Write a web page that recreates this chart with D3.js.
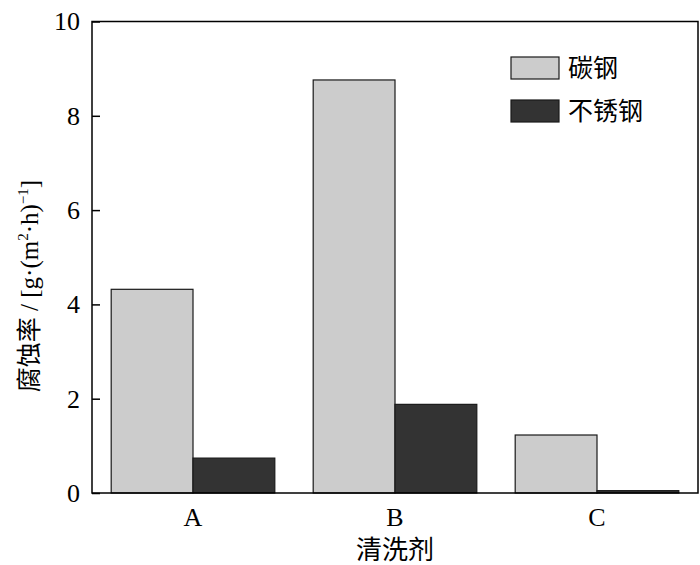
<!DOCTYPE html>
<html>
<head>
<meta charset="utf-8">
<script src="https://cdn.jsdelivr.net/npm/d3@7"></script>
<style>
  body { margin: 0; background: #fff; }
  text { font-family: "Liberation Serif", "Noto Sans CJK SC", serif; fill: #000; }
</style>
</head>
<body>
<div id="chart"></div>
<script>
/* DATA */
const cleaners = ["A", "B", "C"];
const seriesNames = ["碳钢", "不锈钢"];
const carbonSteel = [4.32, 8.76, 1.23];
const stainlessSteel = [0.74, 1.88, 0.05];
const yTicks = [0, 2, 4, 6, 8, 10];

/* CONSTANTS */
const width = 700,
  height = 565,
  margin = { top: 21.5, bottom: 72, left: 92, right: 2 },
  colors = ["#cccccc", "#333333"],
  fontSize = 26;

const svg = d3.select("#chart")
  .append("svg")
  .attr("width", width)
  .attr("height", height);

// table built from the arrays
const rows = cleaners.map((c, i) => ({ cleaner: c, values: [carbonSteel[i], stainlessSteel[i]] }));

/* SCALES */
const xScale = d3.scaleBand()
  .domain(cleaners)
  .range([margin.left, width - margin.right])
  .paddingInner(0.19)
  .paddingOuter(0.095);

const xSub = d3.scaleBand()
  .domain(seriesNames)
  .range([0, xScale.bandwidth()]);

const yScale = d3.scaleLinear()
  .domain([0, 10])
  .range([height - margin.bottom, margin.top]);

/* BARS */
const groups = svg.selectAll(".group")
  .data(rows)
  .join("g")
  .attr("class", "group")
  .attr("transform", d => `translate(${xScale(d.cleaner)},0)`);

groups.selectAll("rect")
  .data(d => d.values.map((v, j) => ({ name: seriesNames[j], value: v, j })))
  .join("rect")
  .attr("x", d => xSub(d.name))
  .attr("y", d => yScale(d.value))
  .attr("width", xSub.bandwidth())
  .attr("height", d => yScale(0) - yScale(d.value))
  .attr("fill", d => colors[d.j])
  .attr("stroke", "#1a1a1a")
  .attr("stroke-width", 1.2);

/* FRAME */
svg.append("rect")
  .attr("x", margin.left)
  .attr("y", margin.top)
  .attr("width", width - margin.right - margin.left)
  .attr("height", yScale(0) - margin.top)
  .attr("fill", "none")
  .attr("stroke", "#000")
  .attr("stroke-width", 1.5);

/* AXES */
const yAxis = d3.axisLeft(yScale)
  .tickValues(yTicks)
  .tickSize(-8)
  .tickPadding(12)
  .tickFormat(d3.format("d"));

svg.append("g")
  .attr("transform", `translate(${margin.left},0)`)
  .call(yAxis)
  .call(g => g.select(".domain").remove())
  .call(g => g.selectAll("line").attr("stroke-width", 1.5))
  .call(g => g.selectAll("text")
    .attr("font-size", fontSize)
    .attr("font-family", "Liberation Serif"));

const xAxis = d3.axisBottom(xScale)
  .tickSize(0)
  .tickPadding(15);

svg.append("g")
  .attr("transform", `translate(0,${yScale(0)})`)
  .call(xAxis)
  .call(g => g.select(".domain").remove())
  .call(g => g.selectAll("text")
    .attr("font-size", fontSize)
    .attr("font-family", "Liberation Serif"));

/* AXIS LABELS */
svg.append("text")
  .attr("x", (margin.left + width - margin.right) / 2)
  .attr("y", 559)
  .attr("text-anchor", "middle")
  .attr("font-size", fontSize)
  .text("清洗剂");

const yLabel = svg.append("text")
  .attr("transform", "translate(38,286) rotate(-90)")
  .attr("text-anchor", "middle")
  .attr("font-size", 25);

yLabel.append("tspan").text("腐蚀率 / [g·(m");
yLabel.append("tspan").attr("font-size", 15).attr("dy", -10).text("2");
yLabel.append("tspan").attr("dy", 10).text("·h)");
yLabel.append("tspan").attr("font-size", 15).attr("dy", -10).text("−1");
yLabel.append("tspan").attr("dy", 10).text("]");

/* LEGEND */
const legend = svg.append("g")
  .attr("transform", "translate(511,57)");

const item = legend.selectAll(".item")
  .data(seriesNames)
  .join("g")
  .attr("class", "item")
  .attr("transform", (d, i) => `translate(0,${i * 43})`);

item.append("rect")
  .attr("width", 48)
  .attr("height", 22)
  .attr("fill", (d, i) => colors[i])
  .attr("stroke", "#1a1a1a")
  .attr("stroke-width", 1.2);

item.append("text")
  .attr("x", 57)
  .attr("y", 11)
  .attr("dy", "0.36em")
  .attr("font-size", 25)
  .text(d => d);
</script>
</body>
</html>
